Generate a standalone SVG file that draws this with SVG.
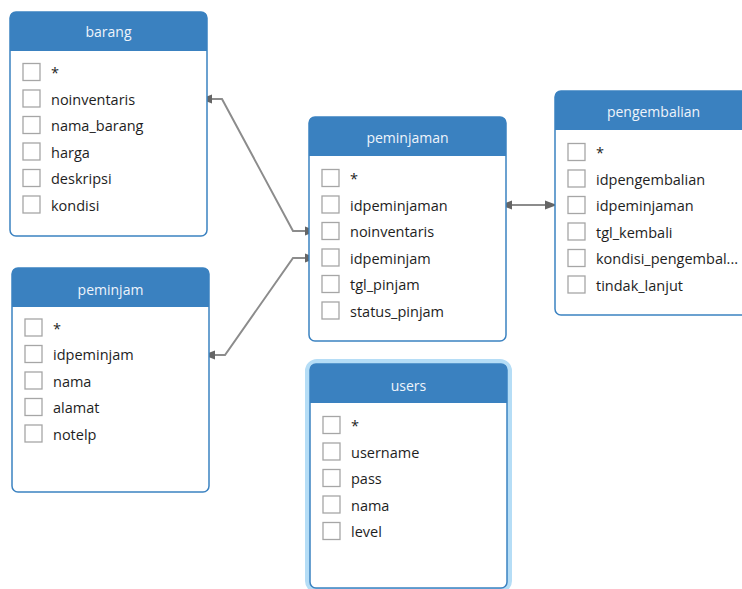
<svg xmlns="http://www.w3.org/2000/svg" width="742" height="589" viewBox="0 0 742 589">
<style>
.box{fill:#ffffff;stroke:#3b82c1;stroke-width:1.5}
.hdr{fill:#3a81c0}
.ttl{font-family:"Open Sans","Noto Sans","DejaVu Sans",sans-serif;font-size:14px;fill:#eef4fb;text-anchor:middle}
.fld{font-family:"Open Sans","Noto Sans","DejaVu Sans",sans-serif;font-size:14.5px;fill:#1e1e1e}
.cb{fill:#ffffff;stroke:#a6a6a6;stroke-width:1.3}
.con{fill:none;stroke:#8c8c8c;stroke-width:2}
</style>
<defs>
<marker id="ah" markerUnits="userSpaceOnUse" markerWidth="14" markerHeight="10" refX="12" refY="4.5" orient="auto-start-reverse" viewBox="0 0 14 9">
<path d="M0,0 L12,4.5 L0,9 Z" fill="#656565"/>
</marker>
<g id="tbl-shape">
<rect class="box" x="0" y="0" width="197" height="224" rx="6"/>
<path class="hdr" d="M0,39 V6 Q0,0 6,0 H191 Q197,0 197,6 V39 Z"/>
</g>
</defs>

<g id="connectors">
<path class="con" d="M200,99 L222,99 L293,231 L317,231" marker-start="url(#ah)" marker-end="url(#ah)"/>
<path class="con" d="M203,355 L225,355 L293,258 L317,258" marker-start="url(#ah)" marker-end="url(#ah)"/>
<path class="con" d="M500,205 L557,205" marker-start="url(#ah)" marker-end="url(#ah)"/>
</g>

<g id="barang" transform="translate(10,12)">
<use href="#tbl-shape"/>
<text class="ttl" x="98.5" y="25">barang</text>
<rect class="cb" x="13" y="51.5" width="17" height="17"/><text class="fld" x="41" y="66">*</text>
<rect class="cb" x="13" y="78" width="17" height="17"/><text class="fld" x="41" y="92.5">noinventaris</text>
<rect class="cb" x="13" y="104.5" width="17" height="17"/><text class="fld" x="41" y="119">nama_barang</text>
<rect class="cb" x="13" y="131" width="17" height="17"/><text class="fld" x="41" y="145.5">harga</text>
<rect class="cb" x="13" y="157.5" width="17" height="17"/><text class="fld" x="41" y="172">deskripsi</text>
<rect class="cb" x="13" y="184" width="17" height="17"/><text class="fld" x="41" y="198.5">kondisi</text>
</g>

<g id="peminjam" transform="translate(12,268)">
<use href="#tbl-shape"/>
<text class="ttl" x="98.5" y="27">peminjam</text>
<rect class="cb" x="13" y="51" width="17" height="17"/><text class="fld" x="41" y="65.5">*</text>
<rect class="cb" x="13" y="77.5" width="17" height="17"/><text class="fld" x="41" y="92">idpeminjam</text>
<rect class="cb" x="13" y="104" width="17" height="17"/><text class="fld" x="41" y="118.5">nama</text>
<rect class="cb" x="13" y="130.5" width="17" height="17"/><text class="fld" x="41" y="145">alamat</text>
<rect class="cb" x="13" y="157" width="17" height="17"/><text class="fld" x="41" y="171.5">notelp</text>
</g>

<g id="peminjaman" transform="translate(309,117)">
<use href="#tbl-shape"/>
<text class="ttl" x="98.5" y="26">peminjaman</text>
<rect class="cb" x="13" y="52.5" width="17" height="17"/><text class="fld" x="41" y="67">*</text>
<rect class="cb" x="13" y="79" width="17" height="17"/><text class="fld" x="41" y="93.5">idpeminjaman</text>
<rect class="cb" x="13" y="105.5" width="17" height="17"/><text class="fld" x="41" y="120">noinventaris</text>
<rect class="cb" x="13" y="132" width="17" height="17"/><text class="fld" x="41" y="146.5">idpeminjam</text>
<rect class="cb" x="13" y="158.5" width="17" height="17"/><text class="fld" x="41" y="173">tgl_pinjam</text>
<rect class="cb" x="13" y="185" width="17" height="17"/><text class="fld" x="41" y="199.5">status_pinjam</text>
</g>

<g id="pengembalian" transform="translate(555,91)">
<use href="#tbl-shape"/>
<text class="ttl" x="98.5" y="26">pengembalian</text>
<rect class="cb" x="13" y="52.5" width="17" height="17"/><text class="fld" x="41" y="67">*</text>
<rect class="cb" x="13" y="79" width="17" height="17"/><text class="fld" x="41" y="93.5">idpengembalian</text>
<rect class="cb" x="13" y="105.5" width="17" height="17"/><text class="fld" x="41" y="120">idpeminjaman</text>
<rect class="cb" x="13" y="132" width="17" height="17"/><text class="fld" x="41" y="146.5">tgl_kembali</text>
<rect class="cb" x="13" y="158.5" width="17" height="17"/><text class="fld" x="41" y="173">kondisi_pengembal...</text>
<rect class="cb" x="13" y="185" width="17" height="17"/><text class="fld" x="41" y="199.5">tindak_lanjut</text>
</g>

<g id="users" transform="translate(310,364)">
<rect x="-1" y="-1" width="199" height="226" rx="8" fill="none" stroke="#b5ddf6" stroke-width="8"/>
<use href="#tbl-shape"/>
<text class="ttl" x="98.5" y="27">users</text>
<rect class="cb" x="13" y="52.5" width="17" height="17"/><text class="fld" x="41" y="67">*</text>
<rect class="cb" x="13" y="79" width="17" height="17"/><text class="fld" x="41" y="93.5">username</text>
<rect class="cb" x="13" y="105.5" width="17" height="17"/><text class="fld" x="41" y="120">pass</text>
<rect class="cb" x="13" y="132" width="17" height="17"/><text class="fld" x="41" y="146.5">nama</text>
<rect class="cb" x="13" y="158.5" width="17" height="17"/><text class="fld" x="41" y="173">level</text>
</g>
</svg>
